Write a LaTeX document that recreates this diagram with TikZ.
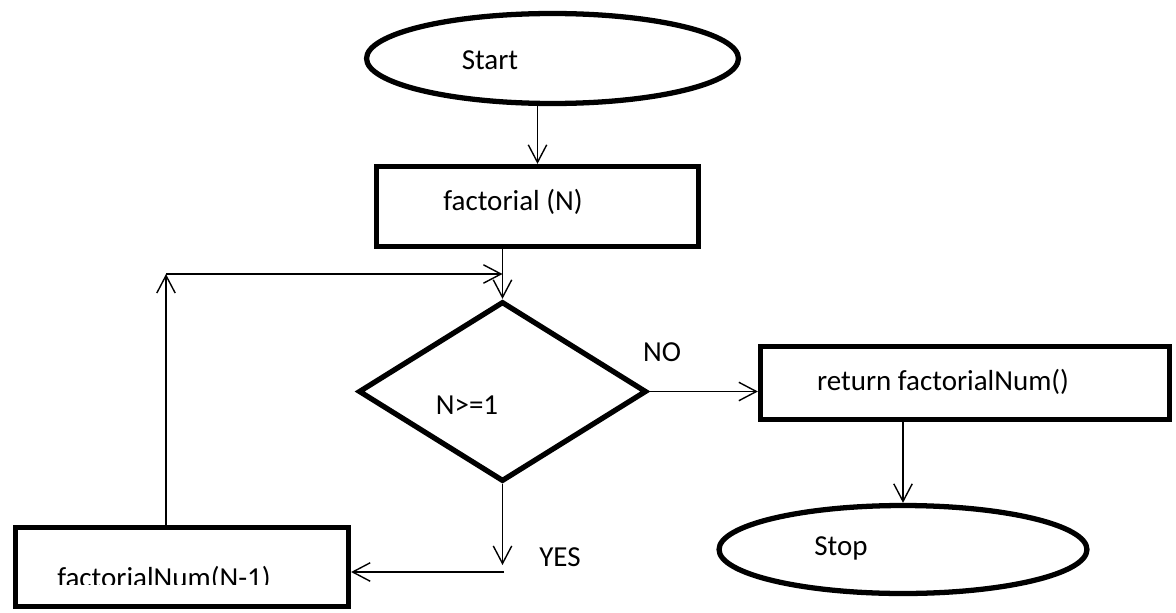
\documentclass[tikz,border=0pt]{standalone}
\usepackage{fontspec}
\setmainfont{Carlito}
\usepackage{tikz}
\usetikzlibrary{shapes.geometric}
\usetikzlibrary{arrows.meta}
\tikzset{
	term/.style={ellipse,draw=black,line width=3pt,inner sep=0pt},
	proc/.style={rectangle,draw=black,line width=3pt,inner sep=0pt},
	cond/.style={diamond,draw=black,line width=3pt,inner sep=0pt},
	txt/.style={font=\fontsize{16.5}{19}\selectfont,inner sep=0pt},
	conn/.style={line width=0.8pt,-{Straight Barb[length=10pt,width=10.5pt]}},
	}

\begin{document}
\begin{tikzpicture}[x=0.02cm,y=-0.02cm]
\useasboundingbox (0,0) rectangle (1176,612);
%FORME
\node[term,minimum width=7.44cm,minimum height=1.8cm] (start) at (552.5,58.5) {};
\node[proc,minimum width=6.44cm,minimum height=1.6cm] (fact) at (537.5,206.5) {};
\node[cond,minimum width=5.76cm,minimum height=3.6cm] (dec) at (502.5,391.5) {};
\node[proc,minimum width=8.18cm,minimum height=1.46cm] (ret) at (965,383) {};
\node[term,minimum width=7.36cm,minimum height=1.76cm] (stop) at (903,549.5) {};
\node[proc,minimum width=6.66cm,minimum height=1.58cm] (fnum) at (182,567) {};
%TESTI
\node[txt] (startlbl) at (490,60) {Start};
\node[txt] (factlbl) at (513,202) {factorial (N)};
\node[txt] (declbl) at (467,405) {N>=1};
\node[txt] (retlbl) at (943,382) {return factorialNum()};
\node[txt] (stoplbl) at (841,548) {Stop};
\node[txt] (nolbl) at (662,352) {NO};
\node[txt] (yeslbl) at (560,557) {YES};
\begin{scope}
\clip (0,0) rectangle (1176,584);
\node[txt,anchor=base] (fnumlbl) at (164,587) {factorialNum(N-1)};
\end{scope}
%PUNTI
\coordinate (lc) at (166,274);
\coordinate (yesend) at (502.5,565);
\coordinate (yesturn) at (504,572);
%FRECCE
\draw[conn] (fact.north |- start.south) -- (fact.north);
\draw[conn] (dec.north |- fact.south) -- (dec.north);
\draw[conn] (lc |- fnum.north) -- (lc);
\draw[conn] (lc) -- (lc -| dec.north);
\draw[conn] (dec.east) -- (dec.east -| ret.west);
\draw[conn] (stop.north |- ret.south) -- (stop.north);
\draw[conn] (dec.south) -- (yesend);
\draw[conn] (yesturn) -- (yesturn -| fnum.east);
\end{tikzpicture}
\end{document}
